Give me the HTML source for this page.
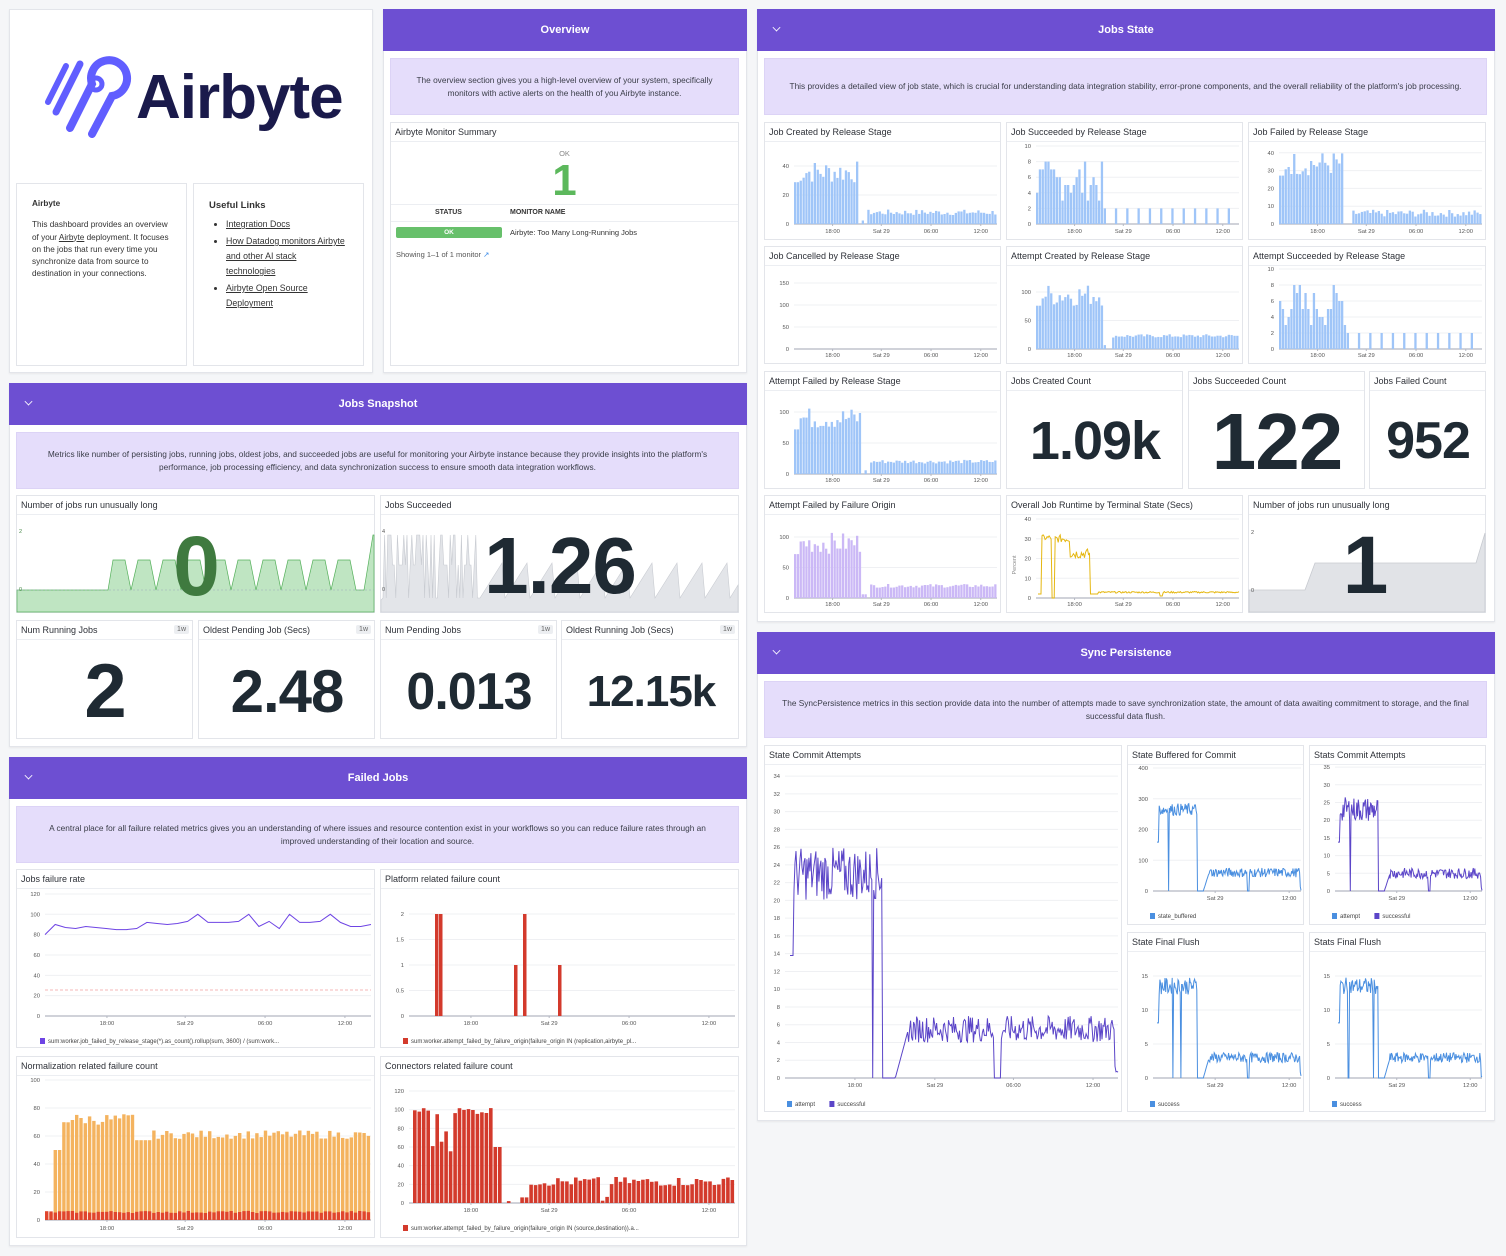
<!DOCTYPE html>
<html><head><meta charset="utf-8"><style>
*{box-sizing:border-box;margin:0;padding:0}
body{width:1506px;height:1256px;background:#f5f6f8;font-family:"Liberation Sans",sans-serif;position:relative;overflow:hidden;color:#2c2f36}
.a{position:absolute}
.grp{position:absolute;background:#fff;border:1px solid #e3e5ea;box-shadow:0 1px 2px rgba(0,0,0,.06)}
.hd{position:absolute;background:#6d4fd2;color:#fff;font-weight:bold;font-size:11px;display:flex;align-items:center;justify-content:center}
.hd .chev{position:absolute;left:16px;top:15px;width:7px;height:7px;border-right:1.3px solid #fff;border-bottom:1.3px solid #fff;transform:rotate(45deg) scale(.8)}
.ds{position:absolute;background:#e5ddfb;border:1px solid #dcd3f6;font-size:8.3px;color:#3a3d48;display:flex;align-items:center;justify-content:center;text-align:center;line-height:13px;padding:0 14px}
.w{position:absolute;background:#fff;border:1px solid #e3e5ea}
.w .t{position:absolute;left:4px;top:4px;font-size:9px;color:#2e3138;white-space:nowrap}
.w .tl{position:absolute;left:0;right:0;top:18px;border-top:1px solid #eceef2}
.tag{position:absolute;right:3px;top:4px;font-size:7px;background:#eceef1;color:#666;padding:1px 3px;border-radius:2px}
.big{position:absolute;font-weight:bold;color:#1f2a33;text-align:center;white-space:nowrap;letter-spacing:-1px}
u{text-decoration:underline}
</style></head><body>
<div id="root"></div>
<svg id="s" class="a" style="left:0;top:0;z-index:5;pointer-events:none" width="1506" height="1256" xmlns="http://www.w3.org/2000/svg"></svg>
<script>
var H='';
function grp(x,y,w,h){H+='<div class="grp" style="left:'+x+'px;top:'+y+'px;width:'+w+'px;height:'+h+'px"></div>';}
function hd(x,y,w,t,ch){H+='<div class="hd" style="left:'+x+'px;top:'+y+'px;width:'+w+'px;height:42px">'+(ch?'<span class="chev"></span>':'')+t+'</div>';}
function ds(x,y,w,h,t){H+='<div class="ds" style="left:'+x+'px;top:'+y+'px;width:'+w+'px;height:'+h+'px">'+t+'</div>';}
function wd(x1,y1,x2,y2,t,tag,inner){H+='<div class="w" style="left:'+x1+'px;top:'+y1+'px;width:'+(x2-x1)+'px;height:'+(y2-y1)+'px"><div class="t">'+t+'</div><div class="tl"></div>'+(tag?'<div class="tag">1w</div>':'')+(inner||'')+'</div>';}

grp(9,9,364,364);
grp(383,9,364,364);hd(383,9,364,'Overview',0);
grp(757,9,738,613);hd(757,9,738,'Jobs State',1);
grp(9,383,738,364);hd(9,383,738,'Jobs Snapshot',1);
grp(9,757,738,489);hd(9,757,738,'Failed Jobs',1);
grp(757,632,738,489);hd(757,632,738,'Sync Persistence',1);

ds(390,58,349,57,'The overview section gives you a high-level overview of your system, specifically monitors with active alerts on the health of you Airbyte instance.');
ds(764,58,723,57,'This provides a detailed view of job state, which is crucial for understanding data integration stability, error-prone components, and the overall reliability of the platform\'s job processing.');
ds(16,432,723,57,'Metrics like number of persisting jobs, running jobs, oldest jobs, and succeeded jobs are useful for monitoring your Airbyte instance because they provide insights into the platform\'s performance, job processing efficiency, and data synchronization success to ensure smooth data integration workflows.');
ds(16,806,723,57,'A central place for all failure related metrics gives you an understanding of where issues and resource contention exist in your workflows so you can reduce failure rates through an improved understanding of their location and source.');
ds(764,681,723,57,'The SyncPersistence metrics in this section provide data into the number of attempts made to save synchronization state, the amount of data awaiting commitment to storage, and the final successful data flush.');

H+='<div class="w" style="left:16px;top:183px;width:171px;height:183px;padding:14px 15px;font-size:8.2px;line-height:12.3px;color:#333"><div style="font-weight:bold;margin-bottom:9px">Airbyte</div>This dashboard provides an overview of your <u>Airbyte</u> deployment. It focuses on the jobs that run every time you synchronize data from source to destination in your connections.</div>';
H+='<div class="w" style="left:193px;top:183px;width:171px;height:183px;padding:14px 15px;font-size:8.8px;line-height:15px;color:#333"><div style="font-weight:bold;margin-bottom:4px;font-size:9.5px">Useful Links</div><ul style="padding-left:17px"><li><u>Integration Docs</u></li><li style="margin-top:2px"><u>How Datadog monitors Airbyte and other AI stack technologies</u></li><li style="margin-top:2px"><u>Airbyte Open Source Deployment</u></li></ul></div>';
H+='<div class="a" style="left:136px;top:62px;font-size:62px;font-weight:bold;color:#1a1a4b;letter-spacing:-1px">Airbyte</div>';

wd(390,122,739,366,'Airbyte Monitor Summary',0,
'<div class="a" style="left:0;width:347px;top:26px;text-align:center;font-size:7.5px;color:#888">OK</div>'+
'<div class="a" style="left:0;width:347px;top:34px;text-align:center;font-size:44px;font-weight:bold;color:#5cb85c;line-height:48px">1</div>'+
'<div class="a" style="left:0;right:0;top:81px;border-top:1px solid #eceef2"></div>'+
'<div class="a" style="left:44px;top:86px;font-size:7px;font-weight:bold;color:#333">STATUS</div>'+
'<div class="a" style="left:119px;top:86px;font-size:7px;font-weight:bold;color:#333">MONITOR NAME</div>'+
'<div class="a" style="left:0;right:0;top:98px;border-top:1px solid #eceef2"></div>'+
'<div class="a" style="left:5px;top:104px;width:106px;height:11px;background:#67c06b;border-radius:2px;color:#fff;font-size:6.5px;font-weight:bold;text-align:center;line-height:11px">OK</div>'+
'<div class="a" style="left:119px;top:105px;font-size:7.5px;color:#333">Airbyte: Too Many Long-Running Jobs</div>'+
'<div class="a" style="left:5px;top:127px;font-size:7.5px;color:#555">Showing 1–1 of 1 monitor <span style="color:#3b8be8">&#8599;</span></div>');

var r1=[122,240],r2=[246,364],r3=[371,489],r4=[495,613];
wd(764,r1[0],1001,r1[1],'Job Created by Release Stage');
wd(1006,r1[0],1243,r1[1],'Job Succeeded by Release Stage');
wd(1248,r1[0],1486,r1[1],'Job Failed by Release Stage');
wd(764,r2[0],1001,r2[1],'Job Cancelled by Release Stage');
wd(1006,r2[0],1243,r2[1],'Attempt Created by Release Stage');
wd(1248,r2[0],1486,r2[1],'Attempt Succeeded by Release Stage');
wd(764,r3[0],1001,r3[1],'Attempt Failed by Release Stage');
wd(1006,r3[0],1183,r3[1],'Jobs Created Count');
wd(1188,r3[0],1365,r3[1],'Jobs Succeeded Count');
wd(1369,r3[0],1486,r3[1],'Jobs Failed Count');
wd(764,r4[0],1001,r4[1],'Attempt Failed by Failure Origin');
wd(1006,r4[0],1243,r4[1],'Overall Job Runtime by Terminal State (Secs)');
wd(1248,r4[0],1486,r4[1],'Number of jobs run unusually long');

wd(16,495,375,613,'Number of jobs run unusually long');
wd(380,495,739,613,'Jobs Succeeded');
wd(16,620,193,739,'Num Running Jobs',1);
wd(198,620,375,739,'Oldest Pending Job (Secs)',1);
wd(380,620,557,739,'Num Pending Jobs',1);
wd(561,620,739,739,'Oldest Running Job (Secs)',1);
wd(16,869,375,1048,'Jobs failure rate');
wd(380,869,739,1048,'Platform related failure count');
wd(16,1056,375,1238,'Normalization related failure count');
wd(380,1056,739,1238,'Connectors related failure count');
wd(764,745,1122,1112,'State Commit Attempts');
wd(1127,745,1304,925,'State Buffered for Commit');
wd(1309,745,1486,925,'Stats Commit Attempts');
wd(1127,932,1304,1112,'State Final Flush');
wd(1309,932,1486,1112,'Stats Final Flush');

document.getElementById('root').innerHTML=H;

var G='';
var seed=7;function rnd(){seed=(seed*9301+49297)%233280;return seed/233280;}
var XL=[['18:00',.19],['Sat 29',.43],['06:00',.675],['12:00',.92]];
function axes(x0,x1,yb,k,ticks,ly,xl){
  ticks.forEach(function(t){var y=yb-t*k;
    if(t!==0)G+='<line x1="'+x0+'" x2="'+x1+'" y1="'+y+'" y2="'+y+'" stroke="#eff0f3" stroke-width="1"/>';
    G+='<text x="'+(x0-5)+'" y="'+(y+2)+'" font-size="5.8" fill="#555" text-anchor="end">'+t+'</text>';});
  G+='<line x1="'+x0+'" x2="'+x1+'" y1="'+yb+'" y2="'+yb+'" stroke="#b5b8c2" stroke-width="1.3"/>';
  (xl||XL).forEach(function(l){var x=x0+l[1]*(x1-x0);G+='<line x1="'+x+'" x2="'+x+'" y1="'+yb+'" y2="'+(yb+2)+'" stroke="#b5b8c2"/><text x="'+x+'" y="'+ly+'" font-size="5.8" fill="#555" text-anchor="middle">'+l[0]+'</text>';});
}
function gen(n,f){var a=[];for(var i=0;i<n;i++)a.push(f(i/n,rnd()));return a;}
function bars(x0,x1,yb,k,v,c){var w=(x1-x0)/v.length;v.forEach(function(d,i){if(d>0)G+='<rect x="'+(x0+i*w).toFixed(1)+'" y="'+(yb-d*k).toFixed(1)+'" width="'+(w*0.8).toFixed(1)+'" height="'+(d*k).toFixed(1)+'" fill="'+c+'"/>';});}
function line(x0,x1,yb,k,v,c,sw){var w=(x1-x0)/(v.length-1);G+='<polyline fill="none" stroke="'+c+'" stroke-width="'+(sw||1)+'" points="'+v.map(function(d,i){return (x0+i*w).toFixed(1)+','+(yb-d*k).toFixed(1)}).join(' ')+'"/>';}
function leg(x,y,items){items.forEach(function(it){G+='<rect x="'+x+'" y="'+(y-5)+'" width="5" height="6" fill="'+it[1]+'"/><text x="'+(x+8)+'" y="'+y+'" font-size="6" fill="#444">'+it[0]+'</text>';x+=it[0].length*3.2+20;});}
var LB='#9fc5f8';
function prof(hiF,hi,hj,lo,lj,gapE){return function(t,r){if(t<0.02)return hi*0.8;if(t<hiF)return hi+(r-.5)*hj;if(t<(gapE||hiF+.06))return r<.3?lo*.3:0;return Math.max(0,lo+(r-.5)*lj);};}

axes(794,997,224,1.45,[0,20,40],233);
bars(794,997,224,1.45,gen(72,prof(.31,36,16,8,4,.36)),LB);
axes(1036,1239,224,7.8,[0,2,4,6,8,10],233);
bars(1036,1239,224,7.8,gen(72,function(t,r){if(t<.32)return Math.round(3+r*5);return (Math.round(t*72)%4==0)?2:0;}),LB);
axes(1279,1482,224,1.78,[0,10,20,30,40],233);
bars(1279,1482,224,1.78,gen(72,prof(.31,34,14,6,4,.35)),LB);
axes(794,997,349,0.44,[0,50,100,150],357);
axes(1036,1239,349,0.57,[0,50,100],357);
bars(1036,1239,349,0.57,gen(72,prof(.32,95,40,23,6,.37)),LB);
axes(1279,1482,349,8,[0,2,4,6,8,10],357);
bars(1279,1482,349,8,gen(72,function(t,r){if(t<.32)return Math.round(3+r*5);return (Math.round(t*72)%4==0)?2:0;}),LB);
axes(794,997,474,0.62,[0,50,100],482);
bars(794,997,474,0.62,gen(72,prof(.32,90,35,20,6,.37)),LB);
axes(794,997,598,0.61,[0,50,100],606);
bars(794,997,598,0.61,gen(72,prof(.32,90,35,20,6,.37)),'#cbb8f6');
axes(1036,1239,598,1.975,[0,10,20,30,40],606);
line(1038,1239,598,1.975,gen(200,function(t,r){if(t<.02)return 2;if(t<.07)return 29+r*3;if(t<.085)return 0;if(t<.16)return 28+r*4;if(t<.26)return 20+r*5;if(t<.3)return 2;return t>.6&&t<.62?1:2.5+r*.8;}),'#e5b711',1);
G+='<text x="1016" y="565" font-size="5.5" fill="#888" transform="rotate(-90 1016 565)" text-anchor="middle">Percent</text>';
G+='<polygon points="1249,590 1305,590 1315,563 1476,563 1485,533 1485,612 1249,612" fill="#e1e3e7" stroke="#c7cad0" stroke-width=".8"/>';
G+='<text x="1251" y="534" font-size="5.5" fill="#555">2</text><text x="1251" y="592" font-size="5.5" fill="#555">0</text>';

var pts='17,590 108,590';var x=108;
while(x<355){pts+=' '+(x+5)+',560 '+(x+17)+',560 '+(x+23)+',590';x+=25;}
pts+=' 364,590 373,535 374,535 374,612 17,612';
G+='<rect x="17" y="590" width="357" height="22" fill="#cdeccf"/>';
G+='<polygon points="'+pts+'" fill="#bfe5c2" stroke="#55b05b" stroke-width=".7"/>';
G+='<line x1="17" x2="374" y1="590" y2="590" stroke="#9ab" stroke-dasharray="2,2" stroke-width=".5"/>';
G+='<text x="19" y="533" font-size="5.5" fill="#4a8a4a">2</text><text x="19" y="591" font-size="5.5" fill="#4a8a4a">0</text>';
var gp='381,600';for(var i=0;i<60;i++){var xx=383+i*1.6;gp+=' '+xx.toFixed(1)+','+(rnd()<.3?535:(rnd()<.6?565:598));}
x=480;while(x+22<=738){gp+=' '+x+',598 '+(x+22)+',563';x+=25;}
gp+=' '+x+',598 738,585 738,612 381,612';
G+='<polygon points="'+gp+'" fill="#e3e5e9" stroke="#c8cbd1" stroke-width=".6"/>';
G+='<text x="382" y="533" font-size="5.5" fill="#555">4</text><text x="382" y="591" font-size="5.5" fill="#555">0</text>';

axes(45,371,1016,1.017,[0,20,40,60,80,100,120],1025);
G+='<line x1="45" x2="371" y1="990" y2="990" stroke="#f4a0a0" stroke-dasharray="3,2" stroke-width=".8"/>';
line(45,371,1016,1.017,[80,90,87,86,88,87,86,85,85,86,92,91,90,91,93,100,92,92,92,93,100,88,93,86,100,92,92,93,100,92,88,88,90],'#6e44e4',1);
leg(40,1043,[['sum:worker.job_failed_by_release_stage(*).as_count().rollup(sum, 3600) / (sum:work...','#6e44e4']]);
axes(409,735,1016,51,[0,0.5,1,1.5,2],1025);
[[435,2],[439,2],[514,1],[523,2],[558,1]].forEach(function(b){G+='<rect x="'+b[0]+'" y="'+(1016-b[1]*51)+'" width="3.5" height="'+(b[1]*51)+'" fill="#d33a2c"/>';});
leg(403,1043,[['sum:worker.attempt_failed_by_failure_origin(failure_origin IN (replication,airbyte_pl...','#d33a2c']]);
axes(45,371,1220,1.4,[0,20,40,60,80,100],1230);
var nv=gen(76,function(t,r){if(t<.02)return 5;if(t<.04)return 50;if(t<.27)return 68+r*8;if(t<.32)return 57;return 58+r*6;});
bars(45,371,1220,1.4,nv,'#f4b35f');
bars(45,371,1220,1.4,nv.map(function(){return 5+rnd()*1.5}),'#e0452d');
axes(409,735,1203,0.933,[0,20,40,60,80,100,120],1212);
bars(413,735,1203,0.933,gen(72,function(t,r){if(t<.25)return t>.05&&t<.12?55+r*45:95+r*8;if(t<.27)return 60;if(t<.33)return r<.2?2:0;if(t<.36)return 6;return t>.57&&t<.6?r*10:18+r*10;}),'#d33a2c');
leg(403,1230,[['sum:worker.attempt_failed_by_failure_origin(failure_origin IN (source,destination)).a...','#d33a2c']]);

function syncv(n,hi,hj,lo,lj){return gen(n,function(t,r){if(t<.012)return hi*.6;if(t<.28){if(r<.015)return 0;return hi+(r-.5)*hj;}if(t<.32)return 0;if(t<.36)return lo*(t-.32)/.04;if(t>.62&&t<.64)return 0;if(t>.985)return r*lo*.3;return Math.max(0,lo+(r-.5)*lj);});}
axes(785,1118,1078,8.88,[0,2,4,6,8,10,12,14,16,18,20,22,24,26,28,30,32,34],1087,[['18:00',.21],['Sat 29',.45],['06:00',.686],['12:00',.925]]);
line(790,1118,1078,8.88,syncv(330,23,6,5.5,3),'#5b45c8',1);
leg(787,1106,[['attempt','#4a8fe0'],['successful','#5b45c8']]);
var XS=[['Sat 29',.42],['12:00',.92]];
axes(1153,1301,891,.3075,[0,100,200,300,400],900,XS);
line(1157,1301,891,.3075,syncv(200,265,40,60,30),'#4a8fe0',1);
leg(1150,918,[['state_buffered','#4a8fe0']]);
axes(1335,1482,891,3.54,[0,5,10,15,20,25,30,35],900,XS);
line(1338,1482,891,3.54,syncv(200,23,7,5,3),'#5b45c8',1);
leg(1332,918,[['attempt','#4a8fe0'],['successful','#5b45c8']]);
axes(1153,1301,1078,6.8,[0,5,10,15],1087,XS);
line(1157,1301,1078,6.8,syncv(200,13.5,2.5,3,1.5),'#4a8fe0',1);
leg(1150,1106,[['success','#4a8fe0']]);
axes(1335,1482,1078,6.8,[0,5,10,15],1087,XS);
line(1338,1482,1078,6.8,syncv(200,13.5,2.5,3,1.5),'#4a8fe0',1);
leg(1332,1106,[['success','#4a8fe0']]);

G+='<g fill="none" stroke="#615eff" stroke-linecap="round">'+
'<path d="M70,128 L92,84 A18,18 0 1 1 112,96 L92,134" stroke-width="8"/>'+
'<path d="M56,112 L80,64" stroke-width="7"/><path d="M48,102 L66,66" stroke-width="6"/>'+
'<circle cx="96" cy="84" r="6" stroke-width="5"/></g>';
document.getElementById('s').innerHTML=G;

var B='';
function bn(cx,cy,size,t,col){B+='<div class="big" style="left:'+(cx-200)+'px;width:400px;top:'+(cy-size*0.6)+'px;font-size:'+size+'px;line-height:'+(size*1.2)+'px;'+(col?'color:'+col:'')+'">'+t+'</div>';}
bn(196,566,84,'0','#3f7a3f');bn(560,566,80,'1.26');bn(1365,566,82,'1');
bn(105,692,76,'2');bn(287,692,60,'2.48');bn(469,692,52,'0.013');bn(651,692,44,'12.15k');
bn(1095,441,54,'1.09k');bn(1277,442,80,'122');bn(1428,441,52,'952');
var d=document.createElement('div');d.style.cssText='position:absolute;left:0;top:0;z-index:6';d.innerHTML=B;document.body.appendChild(d);
</script>
</body></html>
